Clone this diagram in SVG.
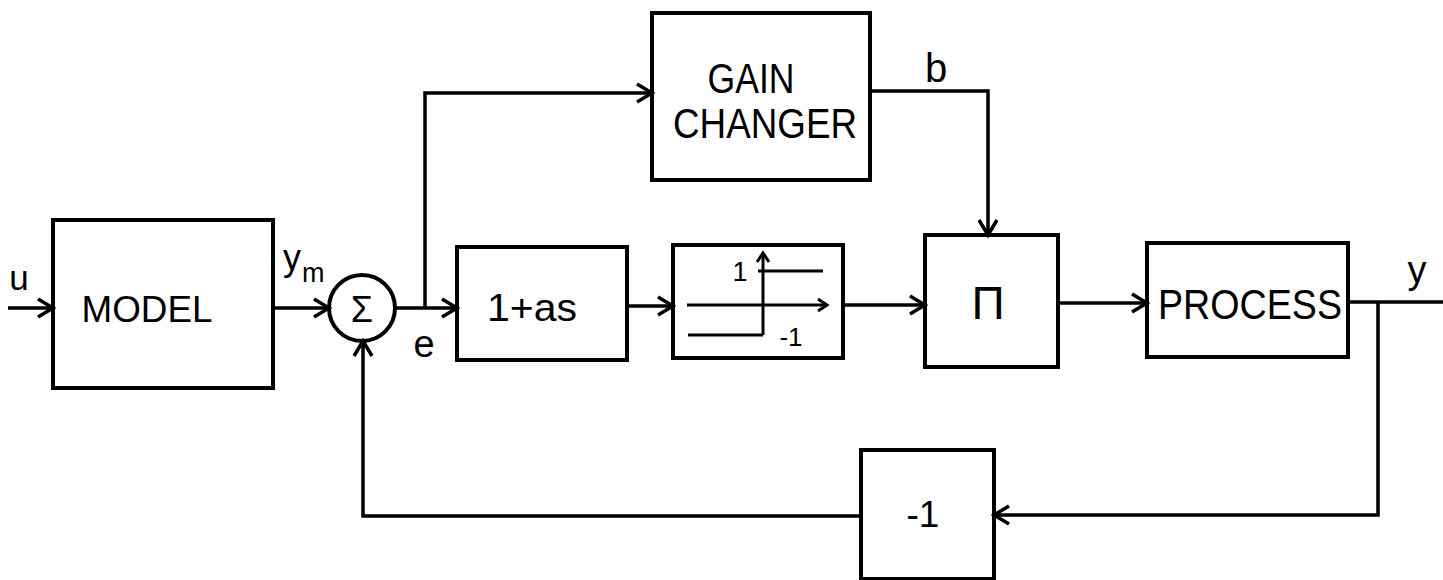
<svg xmlns="http://www.w3.org/2000/svg" width="1443" height="580" viewBox="0 0 1443 580">
<style>
.box{fill:none;stroke:#000;stroke-width:4}
.ln{fill:none;stroke:#000;stroke-width:3.5}
.thin{fill:none;stroke:#000;stroke-width:3}
text{font-family:"Liberation Sans","DejaVu Sans",sans-serif;fill:#000}
.c{text-anchor:middle}
</style>
<defs>
<marker id="arr" markerUnits="userSpaceOnUse" markerWidth="24" markerHeight="24" viewBox="-20 -12 24 24" refX="0" refY="0" orient="auto">
<path d="M-15,-9 L0,0 L-15,9" fill="none" stroke="#000" stroke-width="3.5"/>
</marker>
<marker id="arrs" markerUnits="userSpaceOnUse" markerWidth="20" markerHeight="20" viewBox="-16 -10 20 20" refX="0" refY="0" orient="auto">
<path d="M-9,-6 L0,0 L-9,6" fill="none" stroke="#000" stroke-width="3"/>
</marker>
</defs>
<rect width="1443" height="580" fill="#fff"/>
<g id="connectors">
<path class="ln" d="M8,308 H53" marker-end="url(#arr)"/>
<path class="ln" d="M273,308 H329" marker-end="url(#arr)"/>
<path class="ln" d="M395,308 H457" marker-end="url(#arr)"/>
<path class="ln" d="M425,308 V93 H652" marker-end="url(#arr)"/>
<path class="ln" d="M627,306 H673" marker-end="url(#arr)"/>
<path class="ln" d="M843,305 H925" marker-end="url(#arr)"/>
<path class="ln" d="M870,91 H988 V235" marker-end="url(#arr)"/>
<path class="ln" d="M1058,303 H1147" marker-end="url(#arr)"/>
<path class="ln" d="M1348,302 H1443"/>
<path class="ln" d="M1378,302 V515 H994" marker-end="url(#arr)"/>
<path class="ln" d="M861,516 H363 V341" marker-end="url(#arr)"/>
</g>
<g id="labels">
<text x="19" y="290" class="c" font-size="35">u</text>
<text x="283" y="270" font-size="36">y</text>
<text x="302" y="282" font-size="27">m</text>
<text x="424" y="357" class="c" font-size="38">e</text>
<text x="936" y="82" class="c" font-size="40">b</text>
<text x="1417" y="283" class="c" font-size="38">y</text>
</g>
<g id="model">
<rect class="box" x="53" y="220" width="220" height="168"/>
<text x="147" y="322" class="c" font-size="37" textLength="131" lengthAdjust="spacingAndGlyphs">MODEL</text>
</g>
<g id="sum">
<circle class="box" cx="362" cy="308" r="33"/>
<text x="362" y="322" class="c" font-size="36">Σ</text>
</g>
<g id="lead">
<rect class="box" x="457" y="247" width="170" height="113"/>
<text x="532" y="321" class="c" font-size="39" textLength="90" lengthAdjust="spacingAndGlyphs">1+as</text>
</g>
<g id="relay">
<rect class="box" x="673" y="245" width="170" height="113"/>
<path class="thin" d="M687,305 H827" marker-end="url(#arrs)"/>
<path class="thin" d="M763,335 V253" marker-end="url(#arrs)"/>
<path class="thin" d="M758,271 H823"/>
<path class="thin" d="M688,335 H763"/>
<text x="740" y="281" class="c" font-size="27">1</text>
<text x="791" y="346" class="c" font-size="26">-1</text>
</g>
<g id="gain-changer">
<rect class="box" x="652" y="13" width="218" height="167"/>
<text x="751" y="93" class="c" font-size="43" textLength="87" lengthAdjust="spacingAndGlyphs">GAIN</text>
<text x="765" y="138" class="c" font-size="43" textLength="184" lengthAdjust="spacingAndGlyphs">CHANGER</text>
</g>
<g id="product">
<rect class="box" x="925" y="235" width="133" height="132"/>
<text x="988" y="319" class="c" font-size="46">Π</text>
</g>
<g id="process">
<rect class="box" x="1147" y="243" width="201" height="114"/>
<text x="1250" y="319" class="c" font-size="43" textLength="184" lengthAdjust="spacingAndGlyphs">PROCESS</text>
</g>
<g id="neg">
<rect class="box" x="861" y="450" width="133" height="129"/>
<text x="923" y="527" class="c" font-size="37">-1</text>
</g>
</svg>
